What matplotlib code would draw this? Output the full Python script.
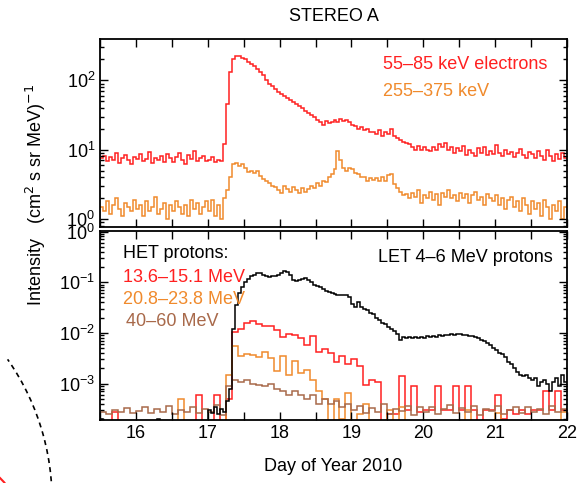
import numpy as np
import matplotlib.pyplot as plt
from matplotlib.patches import Arc
from matplotlib.ticker import MultipleLocator, LogLocator, NullFormatter

plt.rcParams['font.family'] = ['Liberation Sans', 'DejaVu Sans']
plt.rcParams['font.size'] = 13

# time grid: day of year 2010
T_START = 15.5
DT_1H = 1.0 / 24.0
DT_2H = 1.0 / 12.0

# SEPT electrons, hourly, (cm^2 s sr MeV)^-1
elec_55_85 = [
    7.5, 8.2, 6.8, 7.9, 7.1, 9.0, 6.5, 7.6, 8.4, 7.0, 6.2, 7.8,
    7.3, 8.8, 6.9, 7.4, 9.3, 6.4, 7.7, 7.2, 8.1, 6.7, 8.6, 7.5,
    6.6, 7.9, 9.1, 7.0, 6.3, 8.3, 7.4, 9.5, 6.8, 7.6, 8.0, 6.9,
    7.2, 7.8, 6.7, 7.1, 6.9, 12, 45, 130, 200, 225, 222, 212,
    200, 182, 172, 160, 145, 130, 118, 100, 88, 82, 75, 68,
    63, 60, 56, 52, 48, 45, 43, 40, 36, 34, 32, 30,
    27, 25, 23, 26, 24, 25, 27, 25, 28, 26, 27, 25,
    23, 22, 20, 21, 19, 20, 18, 18, 17, 19, 16, 18,
    17, 20, 16, 15, 14, 13, 12.5, 12, 11, 10, 11.5, 10,
    11, 10, 9.5, 11, 10, 12, 11, 12.5, 10, 11, 9.0, 10.5,
    9.5, 11.5, 8.5, 10, 9.0, 8.2, 10.5, 9.0, 11, 8.5, 9.5, 8.8,
    11.8, 9.0, 8.0, 10, 8.6, 9.4, 7.8, 9.0, 10.2, 8.4, 7.6, 9.2,
    8.8, 7.5, 9.6, 8.2, 7.2, 9.8, 8.0, 6.9, 8.6, 7.4, 9.0, 7.6,
]
elec_255_375 = [
    1.5, 1.3, 1.8, 1.2, 1.6, 2.0, 1.4, 1.1, 1.7, 1.5, 1.3, 1.9,
    1.4, 1.6, 1.1, 1.8, 1.3, 1.5, 2.1, 1.2, 1.4, 1.7, 1.0, 1.6,
    1.3, 1.8, 1.5, 1.2, 1.6, 1.1, 1.9, 1.4, 1.7, 1.2, 1.5, 1.8,
    1.3, 1.9, 1.1, 1.6, 1.0, 2.0, 2.6, 4.0, 6.3, 6.5, 5.8, 6.2,
    5.5, 4.8, 5.0, 4.6, 4.9, 4.2, 3.8, 3.5, 3.3, 3.0, 2.9, 2.6,
    2.4, 3.0, 2.7, 2.5, 2.9, 2.6, 2.4, 2.8, 2.5, 2.7, 3.0, 2.8,
    3.3, 3.0, 3.6, 3.4, 4.0, 4.4, 5.2, 9.5, 7.0, 5.5, 5.0, 5.4,
    5.3, 4.6, 4.4, 4.0, 4.1, 3.6, 3.9, 3.7, 3.9, 3.5, 4.0, 3.6,
    4.3, 4.5, 3.2, 2.8, 2.5, 2.2, 2.3, 2.0, 2.4, 2.1, 2.6, 1.7,
    2.2, 2.0, 2.5, 1.9, 2.3, 1.6, 2.4, 2.1, 2.6, 2.0, 2.2, 1.8,
    2.4, 2.0, 2.3, 1.7, 2.2, 2.5, 1.9, 2.1, 1.6, 2.3, 2.0, 1.8,
    2.2, 1.6, 2.0, 1.4, 1.9, 2.1, 1.5, 1.8, 1.3, 2.0, 1.6, 1.2,
    1.8, 1.4, 1.7, 1.1, 1.9, 1.5, 1.0, 1.6, 1.3, 1.8, 1.0, 1.5,
]

# LET 4-6 MeV protons, hourly, units of 1e-4
let_4_6 = [
    2.0, 1.5, 1.4, 1.6, 1.3, 1.5, 1.2, 1.6, 1.4, 1.5, 1.3, 1.6,
    1.4, 1.5, 1.3, 1.6, 1.4, 1.2, 1.5, 2.0, 1.4, 1.3, 1.6, 1.5,
    1.3, 1.6, 1.4, 1.5, 1.2, 1.6, 1.4, 1.5, 1.3, 1.6, 1.4, 1.5,
    3.0, 2.6, 3.4, 2.5, 3.2, 2.8, 4.5, 8, 120, 350, 600, 800,
    1000, 1150, 1300, 1400, 1550, 1500, 1400, 1300, 1250, 1300, 1300, 1400,
    1500, 1700, 1600, 1400, 1100, 1050, 1100, 1150, 1200, 1100, 1000, 900,
    850, 800, 750, 680, 630, 600, 580, 560, 550, 560, 550, 500,
    370, 320, 400, 330, 300, 280, 250, 240, 200, 180, 160, 150,
    130, 120, 110, 95, 72, 82, 81, 83, 80, 85, 78, 84,
    80, 86, 83, 88, 85, 90, 88, 93, 90, 95, 92, 96,
    94, 92, 90, 86, 88, 82, 78, 74, 68, 63, 58, 50,
    46, 41, 38, 33, 27, 24, 20, 17, 15, 14, 15, 13,
    12, 13, 9, 11, 12, 10, 7, 11, 13, 9, 15, 11,
]

# HET protons, 2-hour bins, units of 1e-4 (0.01 = no counts)
het_13_15 = [
    1.5, 1.4, 2.8, 1.5, 1.3, 1.5,
    1.4, 1.5, 1.3, 1.5, 1.4, 1.5,
    1.5, 1.4, 1.5, 1.3, 6.0, 1.5,
    1.4, 6.0, 1.5, 5.0, 105, 120,
    160, 175, 150, 140, 135, 115,
    85, 95, 92, 78, 58, 88,
    42, 48, 40, 27, 35, 24,
    30, 22, 9.3, 12, 11, 0.01,
    2.5, 2.5, 14, 3.0, 9.0, 2.8,
    3.0, 3.0, 9.0, 3.0, 3.0, 9.0,
    3.0, 9.0, 3.0, 0.01, 3.0, 3.0,
    6.0, 2.0, 3.0, 2.5, 3.0, 2.5,
    3.0, 3.0, 7.0, 3.0, 7.0, 3.0,
]
het_20_23 = [
    1.5, 1.4, 1.5, 1.3, 1.5, 1.4,
    1.5, 1.3, 1.5, 1.4, 1.5, 1.4,
    1.5, 5.0, 1.4, 1.5, 1.3, 1.5,
    1.4, 1.5, 1.3, 15, 55, 35,
    38, 36, 34, 42, 32, 18,
    35, 15, 28, 16, 19, 12,
    7.0, 5.0, 0.01, 5.0, 2.0, 6.5,
    0.01, 2.5, 4.0, 0.01, 1.5, 1.5,
    3.0, 1.5, 3.5, 1.5, 1.4, 1.5,
    1.5, 1.4, 1.5, 1.3, 1.5, 1.4,
    1.5, 3.0, 1.4, 1.5, 1.3, 1.5,
    2.6, 1.4, 1.5, 1.3, 1.5, 1.4,
    1.5, 1.4, 1.3, 1.5, 1.4, 2.8,
]
het_40_60 = [
    2.8, 2.5, 3.0, 2.7, 3.3, 2.6,
    2.9, 3.4, 2.6, 3.1, 2.7, 3.6,
    2.5, 3.0, 2.8, 3.5, 2.6, 3.2,
    2.7, 3.8, 2.4, 9.0, 12, 11,
    12, 10, 9.5, 9.0, 10, 8.0,
    7.0, 6.0, 7.0, 6.0, 5.0, 6.0,
    4.0, 5.0, 4.0, 4.5, 3.5, 4.0,
    3.0, 3.6, 2.6, 3.3, 2.8, 3.9,
    2.5, 3.2, 2.9, 3.7, 2.4, 3.4,
    2.8, 3.5, 2.5, 3.1, 3.8, 2.6,
    3.3, 2.7, 3.6, 2.4, 3.2, 2.9,
    3.7, 2.5, 3.0, 3.4, 2.6, 3.5,
    2.8, 3.2, 2.5, 3.6, 2.7, 3.1,
]

RED = '#ff2020'
ORANGE = '#f08a2c'
BROWN = '#a8694a'


def edges(values, dt):
    return T_START + np.arange(len(values) + 1) * dt


def style_axis(ax):
    ax.set_yscale('log')
    ax.set_xlim(15.5, 22.0)
    ax.xaxis.set_major_locator(MultipleLocator(1.0))
    ax.xaxis.set_minor_locator(MultipleLocator(0.5))
    ax.yaxis.set_major_locator(LogLocator(base=10))
    ax.yaxis.set_minor_locator(LogLocator(base=10, subs=np.arange(2, 10)))
    ax.yaxis.set_minor_formatter(NullFormatter())
    ax.tick_params(which='both', direction='in', top=True, right=True, width=1.0)
    ax.tick_params(which='major', length=6, labelsize=13)
    ax.tick_params(axis='x', which='minor', length=6)
    ax.tick_params(axis='y', which='minor', length=3)
    for s in ax.spines.values():
        s.set_linewidth(1.3)


fig = plt.figure(figsize=(5.78, 4.83), dpi=100)
ax1 = fig.add_axes([0.173, 0.530, 0.808, 0.389])
ax2 = fig.add_axes([0.173, 0.130, 0.808, 0.392])

# top panel: electrons
ax1.stairs(elec_55_85, edges(elec_55_85, DT_1H), baseline=None, color=RED, lw=1.1)
ax1.stairs(elec_255_375, edges(elec_255_375, DT_1H), baseline=None, color=ORANGE, lw=1.1)
style_axis(ax1)
ax1.set_ylim(0.77, 393)
ax1.tick_params(labelbottom=False)
ax1.text(0.605, 0.865, '55–85 keV electrons', color=RED, transform=ax1.transAxes,
         fontsize=13, va='center')
ax1.text(0.605, 0.72, '255–375 keV', color=ORANGE, transform=ax1.transAxes,
         fontsize=13, va='center')

# bottom panel: protons
s = 1e-4
ax2.stairs(np.array(het_13_15) * s, edges(het_13_15, DT_2H), baseline=None, color=RED, lw=1.1)
ax2.stairs(np.array(het_20_23) * s, edges(het_20_23, DT_2H), baseline=None, color=ORANGE, lw=1.1)
ax2.stairs(np.array(het_40_60) * s, edges(het_40_60, DT_2H), baseline=None, color=BROWN, lw=1.1)
ax2.stairs(np.array(let_4_6) * s, edges(let_4_6, DT_1H), baseline=None, color='black', lw=1.1)
style_axis(ax2)
ax2.set_ylim(1.9e-4, 1.03)
ax2.text(0.05, 0.88, 'HET protons:', color='black', transform=ax2.transAxes, fontsize=13, va='center')
ax2.text(0.05, 0.755, '13.6–15.1 MeV', color=RED, transform=ax2.transAxes, fontsize=13, va='center')
ax2.text(0.05, 0.64, '20.8–23.8 MeV', color=ORANGE, transform=ax2.transAxes, fontsize=13, va='center')
ax2.text(0.055, 0.52, '40–60 MeV', color=BROWN, transform=ax2.transAxes, fontsize=13, va='center')
ax2.text(0.97, 0.86, 'LET 4–6 MeV protons', color='black', transform=ax2.transAxes,
         fontsize=13, va='center', ha='right')

fig.text(0.578, 0.965, 'STEREO A', ha='center', va='center', fontsize=13)
fig.text(0.577, 0.035, 'Day of Year 2010', ha='center', va='center', fontsize=13)
fig.text(0.062, 0.597, 'Intensity   (cm$^2$ s sr MeV)$^{-1}$', rotation=90,
         ha='center', va='center', fontsize=13)

# pieces of a neighbouring panel cut off at the lower left
W, H = 578.0, 483.0
fig.add_artist(Arc((-193 / W, 1 - 500 / H), 2 * 245 / W, 2 * 245 / H, theta1=-5, theta2=40,
                   transform=fig.transFigure, color='black', lw=1.2, ls=(0, (3, 2.5))))
fig.add_artist(Arc((-40 / W, 1 - 520 / H), 2 * 58 / W, 2 * 58 / H, theta1=30, theta2=55,
                   transform=fig.transFigure, color=RED, lw=1.5))

fig.savefig('out.png', dpi=100)
